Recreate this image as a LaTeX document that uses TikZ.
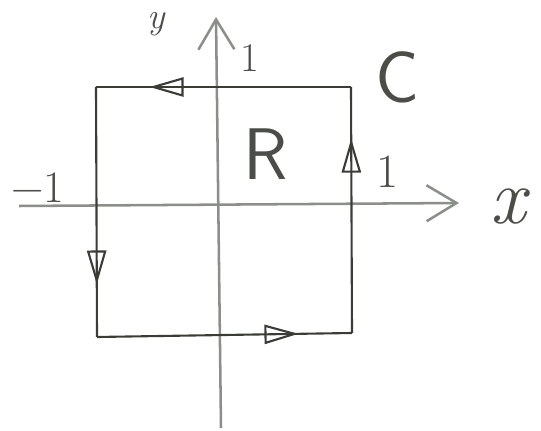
\documentclass[tikz,border=0pt]{standalone}
\usepackage{fontspec}
\usepackage{tikz}
\usetikzlibrary{arrows.meta,decorations.markings}
\definecolor{axisgray}{HTML}{8B8F89}
\definecolor{edgegray}{HTML}{3A3D37}
\definecolor{inkgray}{HTML}{4A4D48}
\tikzset{
  axisline/.style={draw=axisgray, line width=1.8pt,
                   -{Straight Barb[length=7.5mm, width=9mm, line width=1.8pt]}},
  edgeline/.style={draw=edgegray, line width=1.5pt, postaction={decorate},
                   decoration={markings, mark=at position 0.79 with
                     {\arrow{Triangle[open, length=8.5mm, width=4.8mm, line width=1.5pt]}}}},
  inklabel/.style={text=inkgray, inner sep=0pt},
}

\begin{document}
\begin{tikzpicture}[x=0.025cm, y=-0.025cm]
    \useasboundingbox (0,0) rectangle (541,431);
    \coordinate (xs) at (19,206);
    \coordinate (xe) at (459,203);
    \coordinate (ys) at (221,428);
    \coordinate (ye) at (216,17);
    \coordinate (tl) at (96,87);
    \coordinate (tr) at (351,87);
    \coordinate (br) at (352,333);
    \coordinate (bl) at (97,337);
    \draw[axisline] (xs) -- (xe);
    \draw[axisline] (ys) -- (ye);
    \draw[edgeline] (tr) -- (tl);
    \draw[edgeline] (tl) -- (bl);
    \draw[edgeline] (bl) -- (br);
    \draw[edgeline] (br) -- (tr);
    \node[inklabel, font=\itshape\fontsize{26}{30}\selectfont] (ylab) at (156,24) {y};
    \node[inklabel, font=\itshape\fontsize{56}{62}\selectfont] (xlab) at (508,207) {x};
    \node[inklabel, font=\fontsize{29}{32}\selectfont] (ytick) at (250,58) {1};
    \node[inklabel, font=\fontsize{34}{38}\selectfont] (xtick) at (387,172) {1};
    \node[inklabel, font=\fontsize{32}{36}\selectfont] (xneg) at (38,188) {−1};
    \node[inklabel, font=\sffamily\fontsize{52}{58}\selectfont] (curve) at (397,77) {C};
    \node[inklabel, font=\sffamily\fontsize{52}{58}\selectfont] (region) at (266,154) {R};
  \end{tikzpicture}
\end{document}
